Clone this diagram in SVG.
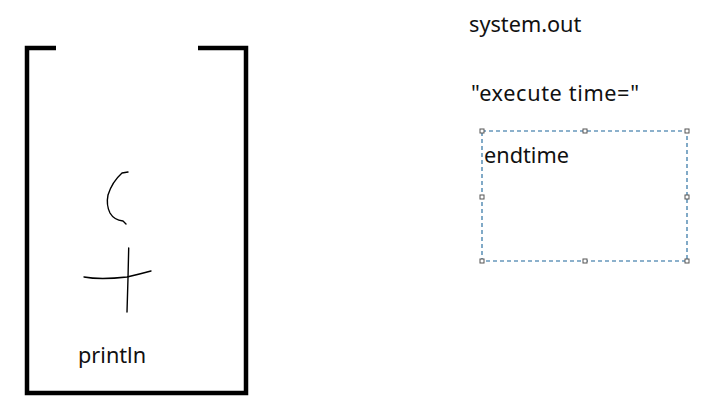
<svg xmlns="http://www.w3.org/2000/svg" width="714" height="420" viewBox="0 0 714 420">
<style>
.t{font-family:"Noto Sans","Open Sans",sans-serif;font-size:21.7px;fill:#111}
.ink{fill:none;stroke:#000;stroke-width:1.4;stroke-linecap:round;stroke-linejoin:round}
.h{fill:#fff;stroke:#555;stroke-width:1}
</style>
<rect width="714" height="420" fill="#fff"/>
<g id="container">
<path d="M56,48 H27 V393 H246 V48 H198" fill="none" stroke="#000" stroke-width="4.5"/>
<text class="t" x="78" y="363">println</text>
</g>
<g id="sketch">
<path class="ink" d="M128,172 L122,173 Q112,182 108,195 Q106,205 110,213 Q114,220 123,221 L126,224"/>
<path class="ink" d="M128.7,248 L128,278 L127,312"/>
<path class="ink" d="M84,277 Q100,280 127,277 Q140,274 151,271"/>
</g>
<g id="system-out"><text class="t" x="469" y="32">system.out</text></g>
<g id="execute-time"><text class="t" x="471" y="101" textLength="168" lengthAdjust="spacing">"execute time="</text></g>
<g id="endtime">
<rect x="482" y="131" width="205" height="130" fill="none" stroke="#1a649a" stroke-width="1.1" stroke-dasharray="4,3"/>
<text class="t" x="484" y="163">endtime</text>
<g>
<rect class="h" x="480" y="129" width="4" height="4"/><rect class="h" x="583" y="129" width="4" height="4"/><rect class="h" x="685" y="129" width="4" height="4"/>
<rect class="h" x="480" y="195" width="4" height="4"/><rect class="h" x="685" y="195" width="4" height="4"/>
<rect class="h" x="480" y="259" width="4" height="4"/><rect class="h" x="583" y="259" width="4" height="4"/><rect class="h" x="685" y="259" width="4" height="4"/>
</g>
</g>
</svg>
